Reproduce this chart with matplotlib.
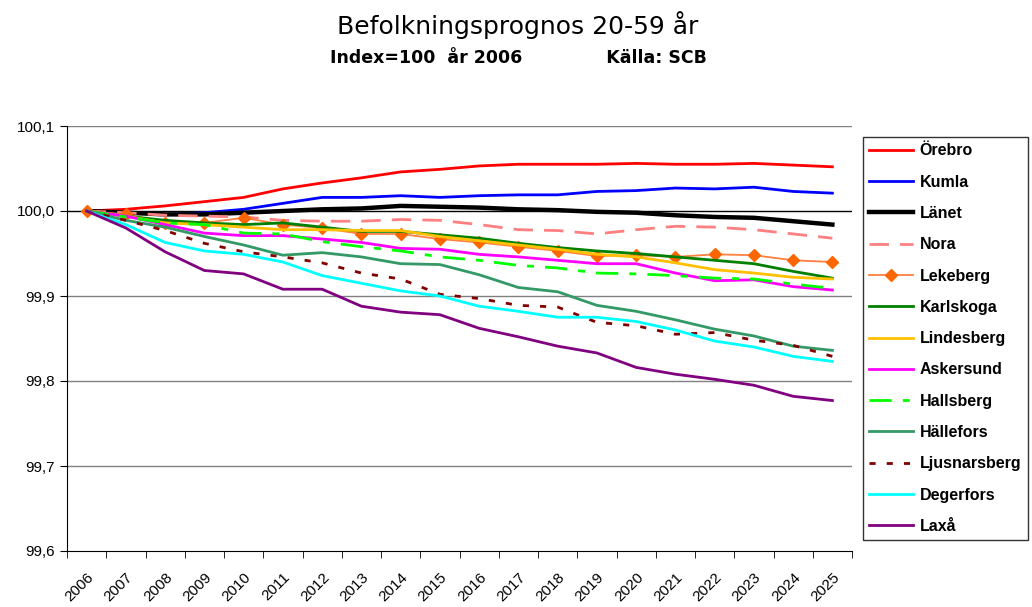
import matplotlib
matplotlib.use("Agg")
import matplotlib.pyplot as plt
from matplotlib.ticker import FixedLocator

years = [str(y) for y in range(2006, 2026)]

orebro = [100.000, 100.002, 100.006, 100.011, 100.016, 100.026, 100.033, 100.039, 100.046, 100.049,
          100.053, 100.055, 100.055, 100.055, 100.056, 100.055, 100.055, 100.056, 100.054, 100.052]
kumla = [100.000, 99.998, 99.996, 99.998, 100.002, 100.009, 100.016, 100.016, 100.018, 100.016,
         100.018, 100.019, 100.019, 100.023, 100.024, 100.027, 100.026, 100.028, 100.023, 100.021]
lanet = [100.000, 99.998, 99.996, 99.996, 99.998, 100.000, 100.002, 100.003, 100.006, 100.005,
         100.004, 100.002, 100.001, 99.999, 99.998, 99.995, 99.993, 99.992, 99.988, 99.984]
nora = [100.000, 99.998, 99.995, 99.994, 99.993, 99.989, 99.988, 99.988, 99.990, 99.989,
        99.984, 99.978, 99.977, 99.973, 99.978, 99.982, 99.981, 99.978, 99.973, 99.968]
lekeberg = [100.000, 99.996, 99.986, 99.986, 99.992, 99.984, 99.980, 99.973, 99.973, 99.967,
            99.963, 99.958, 99.953, 99.947, 99.948, 99.946, 99.949, 99.948, 99.942, 99.940]
karlskoga = [100.000, 99.994, 99.989, 99.986, 99.984, 99.986, 99.981, 99.976, 99.976, 99.972,
             99.968, 99.962, 99.957, 99.953, 99.950, 99.946, 99.942, 99.938, 99.929, 99.921]
lindesberg = [100.000, 99.994, 99.986, 99.984, 99.981, 99.978, 99.978, 99.977, 99.977, 99.970,
              99.965, 99.960, 99.955, 99.949, 99.946, 99.939, 99.931, 99.927, 99.922, 99.920]
askersund = [100.000, 99.994, 99.984, 99.974, 99.971, 99.971, 99.967, 99.963, 99.956, 99.955,
             99.949, 99.946, 99.942, 99.938, 99.938, 99.927, 99.918, 99.919, 99.911, 99.907]
hallsberg = [100.000, 99.993, 99.986, 99.984, 99.974, 99.973, 99.964, 99.958, 99.953, 99.946,
             99.942, 99.936, 99.933, 99.927, 99.926, 99.924, 99.921, 99.920, 99.914, 99.909]
hallefors = [100.000, 99.989, 99.981, 99.970, 99.960, 99.948, 99.951, 99.946, 99.938, 99.937,
             99.925, 99.910, 99.905, 99.889, 99.882, 99.872, 99.861, 99.853, 99.841, 99.836]
ljusnarsberg = [100.000, 99.989, 99.977, 99.962, 99.952, 99.946, 99.939, 99.927, 99.920, 99.902,
                99.897, 99.889, 99.887, 99.869, 99.865, 99.855, 99.857, 99.848, 99.842, 99.829]
degerfors = [100.000, 99.984, 99.963, 99.953, 99.949, 99.940, 99.924, 99.915, 99.906, 99.900,
             99.888, 99.882, 99.875, 99.875, 99.870, 99.860, 99.847, 99.840, 99.829, 99.823]
laxa = [100.000, 99.980, 99.952, 99.930, 99.926, 99.908, 99.908, 99.888, 99.881, 99.878,
        99.862, 99.852, 99.841, 99.833, 99.816, 99.808, 99.802, 99.795, 99.782, 99.777]

y_ticks = [99.6, 99.7, 99.8, 99.9, 100.0, 100.1]
y_labels = ["99,6", "99,7", "99,8", "99,9", "100,0", "100,1"]

# (label, data, style kwargs)
series = [
    ("Örebro", orebro, dict(color="#FF0000", lw=2.0)),
    ("Kumla", kumla, dict(color="#0000FF", lw=2.0)),
    ("Länet", lanet, dict(color="#000000", lw=3.2)),
    ("Nora", nora, dict(color="#FF8080", lw=2.0, dashes=(7, 4))),
    ("Lekeberg", lekeberg, dict(color="#FF8040", lw=1.3, marker="D", ms=6,
                                mfc="#FF6600", mec="#FF6600")),
    ("Karlskoga", karlskoga, dict(color="#008000", lw=2.0)),
    ("Lindesberg", lindesberg, dict(color="#FFC000", lw=2.0)),
    ("Askersund", askersund, dict(color="#FF00FF", lw=2.0)),
    ("Hallsberg", hallsberg, dict(color="#00FF00", lw=2.0, dashes=(8, 4, 2.5, 4))),
    ("Hällefors", hallefors, dict(color="#339966", lw=2.0)),
    ("Ljusnarsberg", ljusnarsberg, dict(color="#800000", lw=2.0, dashes=(2.2, 4))),
    ("Degerfors", degerfors, dict(color="#00FFFF", lw=2.0)),
    ("Laxå", laxa, dict(color="#800080", lw=2.0)),
]

fig = plt.figure(figsize=(10.32, 6.07), dpi=100)
ax = fig.add_axes([67 / 1032, 1 - 551 / 607, (852 - 67) / 1032, (551 - 126) / 607])

x = list(range(len(years)))
for label, data, style in series:
    ax.plot(x, data, label=label, zorder=3, **style)

ax.set_xlim(-0.5, len(years) - 0.5)
ax.set_ylim(99.6, 100.1)
ax.set_yticks(y_ticks)
ax.set_yticklabels(y_labels, fontsize=11, family="Liberation Sans")
ax.set_xticks(x)
ax.set_xticklabels(years, rotation=45, ha="right", rotation_mode="anchor",
                   fontsize=11, family="Liberation Sans")
ax.tick_params(axis="x", length=0, pad=14)
ax.xaxis.set_minor_locator(FixedLocator([i - 0.5 for i in range(len(years) + 1)]))
ax.tick_params(axis="x", which="minor", length=5, direction="out")
ax.tick_params(axis="y", length=5, direction="out")

for v in y_ticks[1:]:
    ax.axhline(v, color="#000000" if v == 100.0 else "#808080", lw=1.0, zorder=1)

for s in ["top", "right"]:
    ax.spines[s].set_visible(False)
ax.spines["left"].set_color("black")
ax.spines["bottom"].set_color("black")

fig.text(0.502, 1 - 25 / 607, "Befolkningsprognos 20-59 år", ha="center", va="center",
         fontsize=18)
fig.text(0.502, 1 - 58 / 607, "Index=100  år 2006              Källa: SCB", ha="center",
         va="center", fontsize=12.5, fontweight="bold")

leg = fig.legend(loc="upper left", bbox_to_anchor=(863 / 1032, 1 - 137 / 607),
                 frameon=True, fancybox=False, edgecolor="black",
                 prop=dict(family="Liberation Sans", weight="bold", size=11.5),
                 handlelength=2.75, labelspacing=1.02, borderaxespad=0,
                 handletextpad=0.4, borderpad=0.4)
leg.get_frame().set_linewidth(1.0)

fig.savefig("out.png", dpi=100)
